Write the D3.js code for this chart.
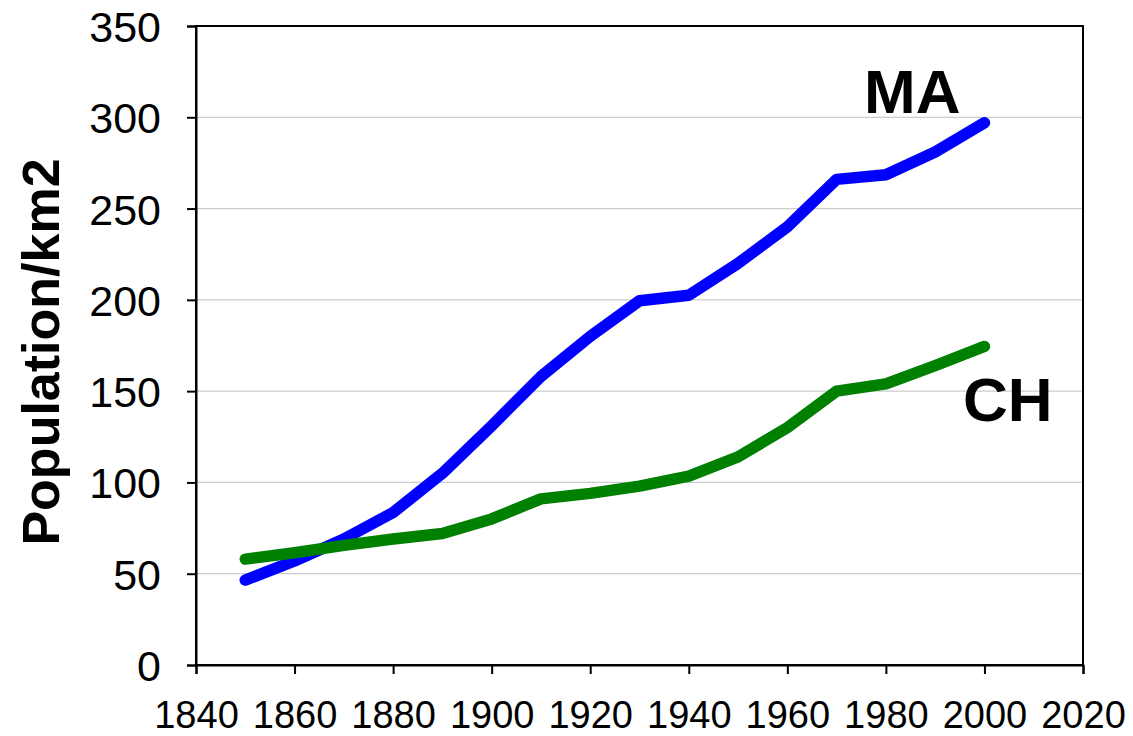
<!DOCTYPE html>
<html>
<head>
<meta charset="utf-8">
<script src="https://cdn.jsdelivr.net/npm/d3@7/dist/d3.min.js"></script>
<style>
  body { margin: 0; background: #fff; }
  svg { display: block; font-family: Arial, "Liberation Sans", sans-serif; }
</style>
</head>
<body>
<div id="chart"></div>
<script>
// data
var years = [1850, 1860, 1870, 1880, 1890, 1900, 1910, 1920, 1930, 1940, 1950, 1960, 1970, 1980, 1990, 2000];
var maValues = [46.5, 57, 69, 83.5, 105, 131, 158, 180, 199.5, 202.5, 220, 240, 266, 268.5, 281, 297];
var chValues = [58, 61.5, 65.5, 69, 72, 80, 91, 94, 98, 103.5, 114, 130, 150, 154, 164, 174.5];
var xTicks = [1840, 1860, 1880, 1900, 1920, 1940, 1960, 1980, 2000, 2020];
var yTicks = [0, 50, 100, 150, 200, 250, 300, 350];

var width = 1133, height = 736;
var margin = {top: 26, right: 50, bottom: 71, left: 196};

var svg = d3.select("#chart").append("svg")
  .attr("width", width)
  .attr("height", height);

var x = d3.scaleLinear()
  .domain([1840, 2020])
  .range([margin.left, width - margin.right]);

var y = d3.scaleLinear()
  .domain([0, 350])
  .range([height - margin.bottom, margin.top]);

// gridlines
svg.append("g")
  .selectAll("line")
  .data(yTicks.filter(function(d) { return d > 0 && d < 350; }))
  .enter().append("line")
    .attr("x1", x(1840))
    .attr("x2", x(2020))
    .attr("y1", function(d) { return y(d); })
    .attr("y2", function(d) { return y(d); })
    .attr("stroke", "#cccccc")
    .attr("stroke-width", 1.3);

// frame
svg.append("rect")
  .attr("x", x(1840))
  .attr("y", y(350))
  .attr("width", x(2020) - x(1840))
  .attr("height", y(0) - y(350))
  .attr("fill", "none")
  .attr("stroke", "#000")
  .attr("stroke-width", 2);

// axes
var xAxis = svg.append("g")
  .attr("transform", "translate(0," + y(0) + ")")
  .call(d3.axisBottom(x).tickValues(xTicks).tickFormat(d3.format("d")).tickSize(9).tickPadding(27));
var yAxis = svg.append("g")
  .attr("transform", "translate(" + x(1840) + ",0)")
  .call(d3.axisLeft(y).tickValues(yTicks).tickSize(9).tickPadding(26));

[xAxis, yAxis].forEach(function(g) {
  g.select(".domain").attr("stroke", "#000").attr("stroke-width", 2);
  g.selectAll(".tick line").attr("stroke", "#000").attr("stroke-width", 2);
  g.selectAll(".tick text").attr("fill", "#000").style("font-family", "Arial, 'Liberation Sans', sans-serif");
});
xAxis.selectAll(".tick text").style("font-size", "38px");
yAxis.selectAll(".tick text").style("font-size", "43px").attr("dy", "0.36em");

// lines
var line = d3.line()
  .x(function(d) { return x(d[0]); })
  .y(function(d) { return y(d[1]); });

var series = [
  {name: "MA", values: maValues, color: "#0000ff"},
  {name: "CH", values: chValues, color: "#008000"}
];

series.forEach(function(s) {
  svg.append("path")
    .datum(years.map(function(yr, i) { return [yr, s.values[i]]; }))
    .attr("d", line)
    .attr("fill", "none")
    .attr("stroke", s.color)
    .attr("stroke-width", 11.5)
    .attr("stroke-linecap", "round")
    .attr("stroke-linejoin", "round");
});

// series labels
svg.append("text")
  .attr("x", 864)
  .attr("y", 113)
  .style("font-size", "62px")
  .style("font-weight", "bold")
  .text("MA");

svg.append("text")
  .attr("x", 963)
  .attr("y", 421)
  .style("font-size", "62px")
  .style("font-weight", "bold")
  .text("CH");

// y axis title
svg.append("text")
  .attr("transform", "translate(59," + 352 + ") rotate(-90)")
  .attr("text-anchor", "middle")
  .style("font-size", "52px")
  .style("font-weight", "bold")
  .text("Population/km2");
</script>
</body>
</html>
